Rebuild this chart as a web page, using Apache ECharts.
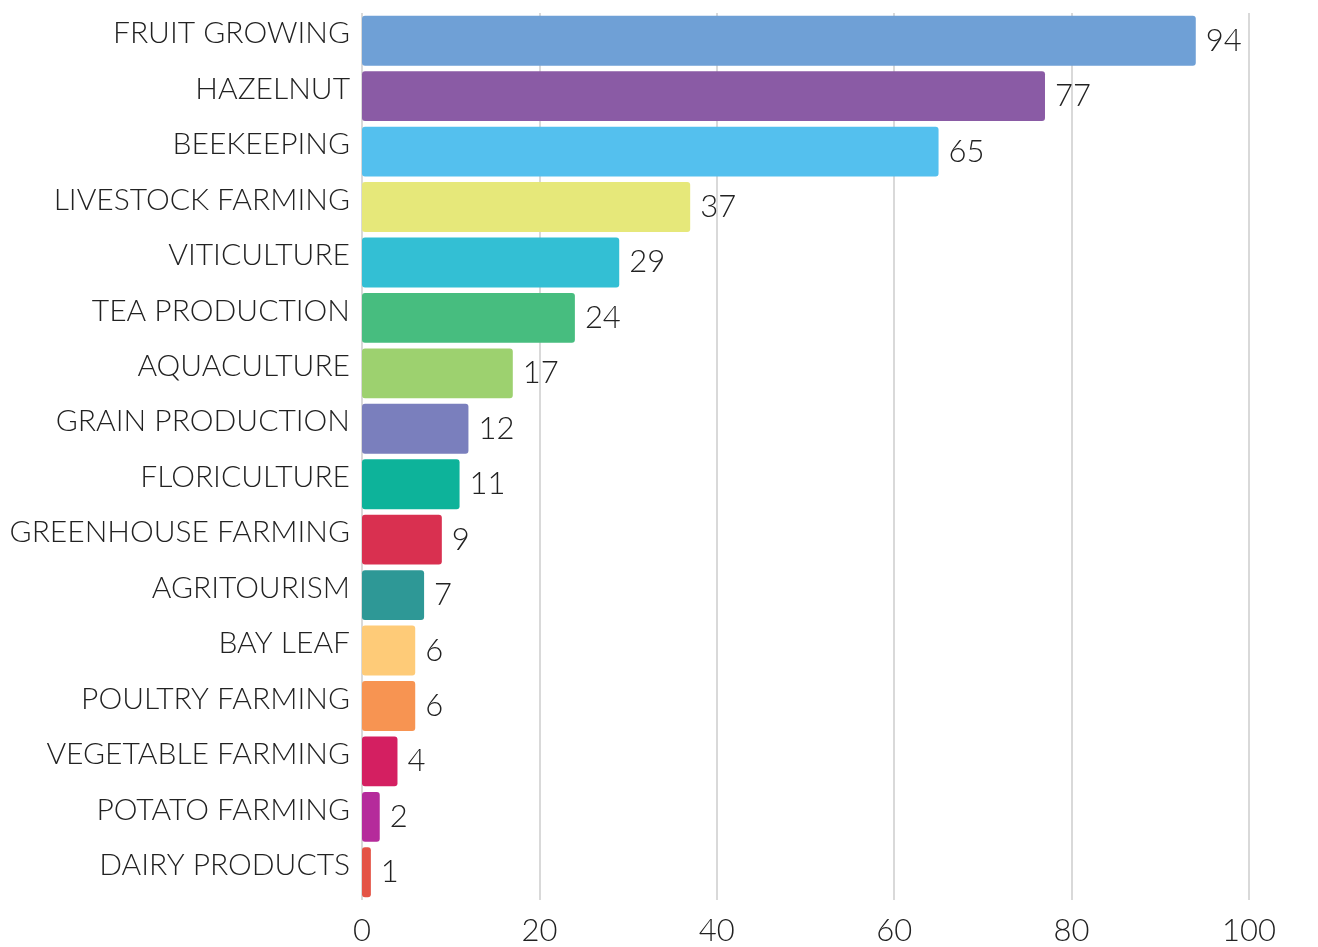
<!DOCTYPE html>
<html><head><meta charset="utf-8">
<script src="https://cdn.jsdelivr.net/npm/echarts@6/dist/echarts.min.js"></script>
<style>html,body{margin:0;padding:0;background:#fff}#c{width:1318px;height:947px}</style>
</head><body><div id="c"></div>
<script>
const categories = ["FRUIT GROWING","HAZELNUT","BEEKEEPING","LIVESTOCK FARMING","VITICULTURE","TEA PRODUCTION","AQUACULTURE","GRAIN PRODUCTION","FLORICULTURE","GREENHOUSE FARMING","AGRITOURISM","BAY LEAF","POULTRY FARMING","VEGETABLE FARMING","POTATO FARMING","DAIRY PRODUCTS"];
const values = [94,77,65,37,29,24,17,12,11,9,7,6,6,4,2,1];
const colors = ["#6fa0d6","#8a5ba5","#54c0ee","#e6e87a","#33bfd4","#47bd7f","#9dd16f","#7a7fbd","#0db39a","#d93050","#2e9896","#fecb78","#f79452","#d41f61","#b52b9b","#e45345"];
const xTicks = [0,20,40,60,80,100];

const chart = echarts.init(document.getElementById('c'), null, {renderer:'canvas'});
const font = "Lato, 'Noto Sans', sans-serif";
chart.setOption({
  animation:false,
  grid:{left:362, right:69, top:13, bottom:47, containLabel:false},
  xAxis:{type:'value', min:xTicks[0], max:xTicks[xTicks.length-1], interval:20,
    axisLine:{show:false}, axisTick:{show:false},
    splitLine:{show:true, lineStyle:{color:'#cccccc', width:1.5}},
    axisLabel:{color:'#222', fontSize:31, fontWeight:300, fontFamily:font, margin:15}},
  yAxis:{type:'category', data:categories, inverse:true,
    axisLine:{show:false}, axisTick:{show:false},
    axisLabel:{color:'#222', fontSize:30, fontWeight:300, fontFamily:font, margin:12,
      verticalAlign:'bottom', lineHeight:14}},
  series:[{type:'bar', barCategoryGap:'10%',
    data: values.map((v,i)=>({value:v, itemStyle:{color:colors[i]}})),
    itemStyle:{borderRadius:3},
    label:{show:true, position:'right', distance:10, color:'#222', fontSize:31, fontWeight:300, fontFamily:font}
  }]
});
</script></body></html>
